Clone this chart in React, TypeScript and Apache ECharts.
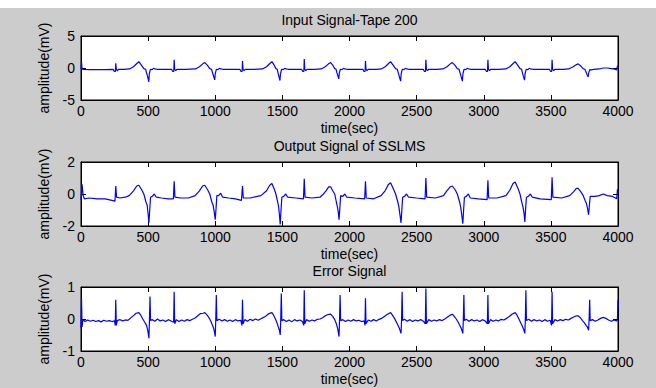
import React, { useEffect, useRef } from "react";
import * as echarts from "echarts";

const xTicks = [0, 500, 1000, 1500, 2000, 2500, 3000, 3500, 4000];
const titles = ["Input Signal-Tape 200", "Output Signal of SSLMS", "Error Signal"];
const yRanges = [
  [-5, 5, 5],
  [-2, 2, 2],
  [-1, 1, 1],
];

const inputSignal: number[][] = [
  [0,-0.2],[4,0.9],[8,-0.1],[12,-0.2],[60,-0.25],[120,-0.25],[180,-0.25],[239,-0.2],[248,-0.55],[256,-0.55],[259,0.75],[263,-0.2],[271,-0.45],[279,-0.2],[320,-0.2],[361,-0.15],[391,0.2],[416,0.7],[431,1.0],[451,0.4],[468,-0.1],[481,-0.2],[489,-0.8],[497,-1.4],[505,-2.15],[509,-0.9],[517,-0.2],[530,-0.25],[540,-0.05],[550,-0.15],[565,-0.2],[620,-0.2],
  [674,-0.2],[683,-0.55],[691,-0.55],[694,1.3],[698,-0.2],[706,-0.4],[714,-0.2],[780,-0.2],[852,-0.15],[882,0.2],[907,0.65],[922,0.85],[942,0.4],[959,-0.1],[972,-0.2],[980,-0.75],[988,-1.3],[996,-1.85],[1000,-0.9],[1008,-0.2],[1021,-0.25],[1031,-0.05],[1041,-0.15],[1056,-0.2],[1120,-0.2],
  [1183,-0.2],[1192,-0.55],[1200,-0.55],[1203,1.1],[1207,-0.2],[1215,-0.4],[1223,-0.2],[1290,-0.2],[1352,-0.15],[1382,0.2],[1407,0.7],[1422,1.0],[1440,0.4],[1452,-0.1],[1462,-0.2],[1468,-0.8],[1475,-1.4],[1482,-1.95],[1486,-0.9],[1494,-0.2],[1507,-0.25],[1517,-0.05],[1527,-0.15],[1542,-0.2],[1600,-0.2],
  [1643,-0.2],[1652,-0.55],[1660,-0.55],[1663,1.4],[1667,-0.2],[1675,-0.4],[1683,-0.2],[1740,-0.2],[1789,-0.15],[1819,0.2],[1844,0.65],[1859,0.85],[1877,0.4],[1890,-0.1],[1900,-0.2],[1906,-0.7],[1913,-1.2],[1920,-1.7],[1924,-0.8],[1932,-0.2],[1945,-0.25],[1955,-0.05],[1965,-0.15],[1980,-0.2],[2050,-0.2],
  [2099,-0.2],[2108,-0.55],[2116,-0.55],[2119,1.1],[2123,-0.2],[2131,-0.4],[2139,-0.2],[2200,-0.2],[2236,-0.15],[2266,0.2],[2291,0.7],[2306,1.0],[2326,0.4],[2343,-0.1],[2356,-0.2],[2364,-0.8],[2372,-1.4],[2381,-2.05],[2385,-0.9],[2393,-0.2],[2406,-0.25],[2416,-0.05],[2426,-0.15],[2441,-0.2],[2500,-0.2],
  [2549,-0.2],[2558,-0.55],[2566,-0.55],[2569,1.3],[2573,-0.2],[2581,-0.4],[2589,-0.2],[2650,-0.2],[2696,-0.15],[2726,0.2],[2751,0.65],[2766,0.85],[2786,0.4],[2803,-0.1],[2816,-0.2],[2824,-0.8],[2832,-1.4],[2841,-2.05],[2845,-0.9],[2853,-0.2],[2866,-0.25],[2876,-0.05],[2886,-0.15],[2901,-0.2],[2960,-0.2],
  [3011,-0.2],[3020,-0.55],[3028,-0.55],[3031,1.3],[3035,-0.2],[3043,-0.4],[3051,-0.2],[3110,-0.2],[3164,-0.15],[3194,0.2],[3219,0.7],[3234,1.0],[3254,0.4],[3270,-0.1],[3282,-0.2],[3289,-0.8],[3296,-1.35],[3304,-1.9],[3308,-0.9],[3316,-0.2],[3329,-0.25],[3339,-0.05],[3349,-0.15],[3364,-0.2],[3430,-0.2],
  [3489,-0.2],[3498,-0.55],[3506,-0.55],[3509,1.3],[3513,-0.2],[3521,-0.4],[3529,-0.2],[3590,-0.2],[3633,-0.15],[3663,0.15],[3688,0.5],[3703,0.65],[3723,0.3],[3740,-0.1],[3753,-0.2],[3761,-0.6],[3769,-1.0],[3778,-1.4],[3782,-0.7],[3790,-0.25],[3803,-0.3],[3820,-0.2],[3860,-0.15],[3890,0.0],[3920,0.0],[3950,-0.1],[3975,-0.2],[3990,-0.3],[3996,0.35],[4000,0.2],
];

const outputSignal: number[][] = [
  [0,-0.4],[8,0.6],[16,-0.1],[25,-0.3],[60,-0.25],[120,-0.3],[180,-0.3],[230,-0.4],[253,-0.45],[259,0.5],[265,-0.2],[290,-0.25],[330,-0.2],[359,-0.1],[391,0.2],[415,0.5],[431,0.55],[453,0.25],[468,0.0],[484,-0.5],[493,-0.7],[500,-1.25],[506,-1.8],[512,-1.0],[518,-0.2],[531,-0.15],[546,0.0],[561,-0.2],[600,-0.25],[650,-0.3],
  [688,-0.3],[694,0.8],[700,-0.2],[740,-0.25],[800,-0.25],[850,-0.1],[882,0.2],[906,0.5],[922,0.55],[944,0.25],[959,0.0],[975,-0.5],[984,-0.7],[992,-1.1],[1000,-1.6],[1006,-0.9],[1012,-0.1],[1025,-0.1],[1040,0.05],[1055,-0.2],[1100,-0.25],[1150,-0.3],
  [1195,-0.4],[1203,0.5],[1209,-0.25],[1260,-0.25],[1340,-0.1],[1382,0.2],[1406,0.55],[1422,0.65],[1440,0.3],[1452,0.0],[1465,-0.5],[1472,-0.8],[1478,-1.3],[1484,-1.9],[1490,-1.0],[1496,-0.2],[1510,-0.15],[1525,0.0],[1540,-0.2],[1600,-0.25],
  [1657,-0.3],[1663,0.95],[1669,-0.2],[1720,-0.25],[1780,-0.2],[1800,-0.05],[1825,0.2],[1845,0.45],[1859,0.45],[1875,0.2],[1890,0.0],[1902,-0.5],[1910,-0.8],[1916,-1.1],[1922,-1.6],[1928,-0.9],[1934,-0.1],[1950,-0.15],[1965,0.0],[1980,-0.2],[2040,-0.25],
  [2113,-0.3],[2119,0.8],[2125,-0.25],[2180,-0.3],[2235,-0.1],[2265,0.2],[2290,0.6],[2306,0.7],[2328,0.3],[2343,0.0],[2360,-0.5],[2368,-0.8],[2376,-1.3],[2384,-1.8],[2390,-1.0],[2396,-0.2],[2410,-0.15],[2425,0.0],[2440,-0.2],[2500,-0.25],
  [2563,-0.3],[2569,1.0],[2575,-0.2],[2640,-0.25],[2700,-0.1],[2725,0.2],[2750,0.45],[2766,0.5],[2788,0.25],[2803,0.0],[2820,-0.5],[2828,-0.8],[2836,-1.3],[2844,-1.85],[2850,-1.0],[2856,-0.2],[2870,-0.15],[2885,0.0],[2900,-0.25],[2960,-0.3],
  [3025,-0.35],[3031,0.85],[3037,-0.25],[3100,-0.25],[3165,-0.1],[3195,0.25],[3218,0.65],[3234,0.75],[3255,0.35],[3270,0.0],[3283,-0.5],[3292,-0.8],[3300,-1.2],[3306,-1.75],[3312,-0.9],[3318,-0.2],[3332,-0.15],[3347,0.0],[3362,-0.2],[3420,-0.3],
  [3503,-0.35],[3509,1.05],[3515,-0.2],[3580,-0.25],[3640,-0.1],[3670,0.15],[3690,0.35],[3703,0.35],[3722,0.15],[3738,-0.05],[3755,-0.4],[3765,-0.6],[3773,-0.9],[3781,-1.3],[3787,-0.7],[3793,-0.15],[3830,-0.15],[3860,-0.1],[3890,0.0],[3920,-0.1],[3960,-0.15],[3990,-0.3],[3996,0.3],[4000,0.1],
];

const errorSignal: number[][] = [
  [0,-0.3],[4,0.65],[8,-0.25],[14,-0.02],[30,-0.08],[50,-0.03],[70,-0.07],[90,-0.04],[110,-0.08],[130,-0.05],[150,-0.09],[170,-0.04],[190,-0.07],[210,-0.05],[230,-0.08],[250,-0.06],[255,-0.2],[259,0.6],[263,-0.2],[270,-0.05],[290,-0.02],[310,-0.06],[330,-0.03],[350,-0.04],[375,0.05],[395,0.12],[410,0.18],[431,0.2],[445,0.12],[460,0.0],[475,-0.1],[488,-0.2],[497,-0.35],[506,-0.6],[510,0.0],[514,0.7],[518,-0.05],[530,-0.02],[550,-0.07],[570,0.0],[590,-0.06],[610,-0.03],[630,-0.08],[650,-0.02],[670,-0.06],[690,-0.1],
  [694,0.85],[698,-0.15],[710,-0.02],[730,-0.08],[750,-0.03],[770,-0.07],[790,-0.02],[810,-0.05],[830,-0.01],[850,0.03],[870,0.1],[890,0.17],[910,0.18],[922,0.2],[940,0.12],[955,0.03],[968,-0.08],[980,-0.2],[990,-0.32],[1000,-0.55],[1004,0.0],[1008,0.75],[1012,-0.05],[1030,-0.01],[1050,-0.06],[1070,-0.02],[1090,-0.07],[1110,-0.03],[1130,-0.08],[1150,-0.02],[1170,-0.06],[1190,-0.04],
  [1199,-0.2],[1203,0.6],[1207,-0.15],[1220,-0.02],[1240,-0.07],[1260,-0.01],[1280,-0.05],[1300,0.0],[1320,-0.04],[1340,0.01],[1360,0.05],[1380,0.1],[1400,0.17],[1422,0.2],[1435,0.12],[1448,0.0],[1460,-0.12],[1470,-0.25],[1478,-0.35],[1484,-0.5],[1488,0.0],[1492,0.8],[1496,-0.05],[1510,-0.02],[1530,-0.08],[1550,-0.03],[1570,-0.09],[1590,-0.02],[1610,-0.06],[1630,-0.03],[1650,-0.08],
  [1659,-0.2],[1663,0.9],[1667,-0.15],[1680,-0.02],[1700,-0.07],[1720,-0.03],[1740,-0.06],[1760,-0.01],[1780,0.0],[1800,0.04],[1820,0.1],[1840,0.14],[1859,0.15],[1875,0.08],[1890,-0.02],[1902,-0.15],[1912,-0.3],[1922,-0.55],[1926,0.0],[1930,0.75],[1934,-0.05],[1950,-0.02],[1970,-0.08],[1990,-0.03],[2010,-0.07],[2030,-0.02],[2050,-0.06],[2070,-0.04],[2090,-0.08],[2110,-0.06],
  [2115,-0.2],[2119,0.65],[2123,-0.15],[2140,-0.03],[2160,-0.07],[2180,-0.02],[2200,-0.06],[2220,-0.01],[2240,0.02],[2260,0.08],[2280,0.14],[2306,0.2],[2320,0.12],[2335,0.02],[2350,-0.1],[2362,-0.2],[2372,-0.3],[2384,-0.45],[2388,0.0],[2392,0.85],[2396,-0.05],[2410,-0.01],[2430,-0.07],[2450,-0.02],[2470,-0.08],[2490,-0.03],[2510,-0.06],[2530,-0.02],[2550,-0.07],
  [2565,-0.15],[2569,0.95],[2573,-0.15],[2590,-0.02],[2610,-0.07],[2630,-0.03],[2650,-0.06],[2670,-0.02],[2690,-0.05],[2710,0.0],[2730,0.06],[2750,0.12],[2766,0.15],[2780,0.08],[2795,0.0],[2810,-0.1],[2822,-0.2],[2833,-0.3],[2844,-0.45],[2848,0.0],[2852,0.75],[2856,-0.05],[2870,-0.01],[2890,-0.07],[2910,-0.02],[2930,-0.06],[2950,-0.03],[2970,-0.08],[2990,-0.02],[3010,-0.06],
  [3027,-0.15],[3031,0.75],[3035,-0.15],[3050,-0.02],[3070,-0.07],[3090,-0.03],[3110,-0.06],[3130,-0.01],[3150,-0.03],[3170,0.02],[3190,0.08],[3210,0.15],[3234,0.2],[3248,0.12],[3262,0.0],[3275,-0.12],[3287,-0.22],[3297,-0.32],[3306,-0.45],[3310,0.0],[3314,0.9],[3318,-0.05],[3335,-0.01],[3355,-0.07],[3375,-0.02],[3395,-0.06],[3415,-0.03],[3435,-0.08],[3455,-0.02],[3475,-0.07],[3495,-0.04],
  [3505,-0.2],[3509,0.85],[3513,-0.15],[3530,-0.02],[3550,-0.06],[3570,-0.02],[3590,-0.05],[3610,-0.01],[3630,-0.03],[3650,0.02],[3670,0.06],[3690,0.1],[3703,0.1],[3720,0.04],[3735,-0.05],[3750,-0.12],[3762,-0.2],[3772,-0.25],[3781,-0.35],[3785,0.0],[3789,0.6],[3793,-0.05],[3810,-0.02],[3830,-0.07],[3850,-0.03],[3870,0.02],[3890,0.05],[3910,0.02],[3930,-0.03],[3950,-0.07],[3970,-0.03],[3990,-0.06],[3996,0.0],[4000,0.6],
];

const seriesData = [inputSignal, outputSignal, errorSignal];

const FONT = "'Liberation Sans', Arial, sans-serif";
const gridTops = [36, 162, 287];
const GRID_LEFT = 81;
const GRID_W = 537;
const GRID_H = 64;

export default function App() {
  const ref = useRef<HTMLDivElement>(null);
  useEffect(() => {
    if (!ref.current) return;
    const chart = echarts.init(ref.current, undefined, { renderer: "svg" });
    const grid: any[] = [];
    const xAxis: any[] = [];
    const yAxis: any[] = [];
    const series: any[] = [];
    const title: any[] = [];
    gridTops.forEach((top, i) => {
      grid.push({
        left: GRID_LEFT, top, width: GRID_W, height: GRID_H,
        show: true, backgroundColor: "#ffffff", borderColor: "#000", borderWidth: 1,
      });
      title.push({
        text: titles[i], left: GRID_LEFT + GRID_W / 2, top: top - 23, textAlign: "center", padding: 0,
        textStyle: { fontFamily: FONT, fontSize: 14, fontWeight: "normal", color: "#000" },
      });
      const axisLine = { show: true, onZero: false, lineStyle: { color: "#000", width: 1 } };
      const tick = { show: true, inside: true, length: 5, lineStyle: { color: "#000" } };
      xAxis.push({
        gridIndex: i, type: "value", position: "bottom", min: 0, max: 4000, interval: 500,
        axisLine, axisTick: tick, splitLine: { show: false },
        axisLabel: {
          fontFamily: FONT, fontSize: 14, color: "#000", margin: 4,
          formatter: (v: number) => (xTicks.includes(v) ? String(v) : ""),
        },
        name: "time(sec)", nameLocation: "middle", nameGap: 21,
        nameTextStyle: { fontFamily: FONT, fontSize: 14, color: "#000" },
      });
      xAxis.push({
        gridIndex: i, type: "value", position: "top", min: 0, max: 4000, interval: 500,
        axisLine, axisTick: tick, splitLine: { show: false }, axisLabel: { show: false },
      });
      const [mn, mx, iv] = yRanges[i];
      yAxis.push({
        gridIndex: i, type: "value", position: "left", min: mn, max: mx, interval: iv,
        axisLine, axisTick: tick, splitLine: { show: false },
        axisLabel: { fontFamily: FONT, fontSize: 14, color: "#000", margin: 6 },
        name: "amplitude(mV)", nameLocation: "middle", nameGap: 30, nameRotate: 90,
        nameTextStyle: { fontFamily: FONT, fontSize: 14, color: "#000" },
      });
      yAxis.push({
        gridIndex: i, type: "value", position: "right", min: mn, max: mx, interval: iv,
        axisLine, axisTick: tick, splitLine: { show: false }, axisLabel: { show: false },
      });
      series.push({
        type: "line", xAxisIndex: i * 2, yAxisIndex: i * 2, data: seriesData[i],
        showSymbol: false, symbol: "none", lineStyle: { color: "#0000ff", width: 1.2 },
        clip: true,
      });
    });
    chart.setOption({
      animation: false,
      backgroundColor: "#cccccc",
      title, grid, xAxis, yAxis, series,
      graphic: [
        { type: "rect", left: 0, top: 0, shape: { x: 0, y: 0, width: 656, height: 8 }, style: { fill: "#ffffff" }, silent: true },
      ],
    });
    return () => chart.dispose();
  }, []);
  return (
    <div
      ref={ref}
      style={{ position: "absolute", left: 0, top: 0, width: 656, height: 388 }}
    />
  );
}
